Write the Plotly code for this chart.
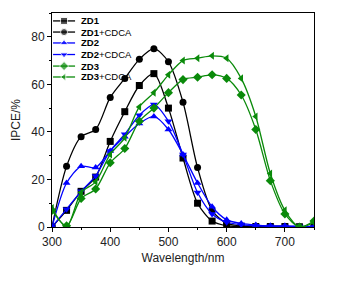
import plotly.graph_objects as go

wavelength = [300, 325, 350, 375, 400, 425, 450, 475, 500, 525, 550, 575, 600, 625, 650, 675, 700, 725, 750]

zd1 = [0, 7, 15, 21, 36, 48.5, 59.5, 64.5, 50, 29, 10, 2.5, 0.5, 0.3, 0.2, 0.2, 0.2, 0.1, 0]
zd1_cdca = [0, 25.5, 38, 41, 54.5, 62.5, 70.5, 75, 69.5, 52.5, 25, 7, 1.5, 0.5, 0.3, 0.2, 0.2, 0.1, 0]
zd2 = [0, 18.5, 25.5, 25, 32, 38, 43.5, 46.5, 41, 30.5, 18.5, 8.5, 3, 1.5, 0.8, 0.5, 0.5, 0.3, 0.2]
zd2_cdca = [0, 7.5, 15, 21.5, 32, 39, 47, 51.5, 44.5, 30.5, 14.5, 5.5, 2, 1, 0.5, 0.3, 0.2, 0.2, 0]
zd3 = [7, 0.5, 12, 16, 27, 33, 44.5, 50, 56.5, 62, 63, 64, 62.5, 55.5, 41, 19.5, 5.5, 0, 2.5]
zd3_cdca = [8, 0, 14.5, 19, 30.5, 37.5, 50.5, 56.5, 64, 70, 71, 72, 71, 62.5, 46.5, 22.5, 7, 0, 2]

names = ["ZD1", "ZD1+CDCA", "ZD2", "ZD2+CDCA", "ZD3", "ZD3+CDCA"]
values = [zd1, zd1_cdca, zd2, zd2_cdca, zd3, zd3_cdca]
colors = ["black", "black", "#0000ff", "#0000ff", "#0a8a0a", "#0a8a0a"]
symbols = ["square", "circle", "triangle-up", "triangle-down", "diamond", "triangle-left"]

fig = go.Figure()
for name, ys, color, sym in zip(names, values, colors, symbols):
    fig.add_trace(go.Scatter(
        x=wavelength, y=ys, name=name, mode="lines+markers", showlegend=False,
        line=dict(color=color, width=1.3, shape="spline", smoothing=0.8),
        marker=dict(symbol=sym, size=7, color=color),
    ))

# compact legend key drawn on a hidden overlay axis (0..1 over the plot area)
leg_y = [0.963, 0.911, 0.860, 0.806, 0.752, 0.701]
for name, color, sym, yy in zip(names, colors, symbols, leg_y):
    fig.add_trace(go.Scatter(
        x=[0.004, 0.046, 0.088], y=[yy, yy, yy], xaxis="x2", yaxis="y2",
        mode="lines+markers", showlegend=False, hoverinfo="skip",
        line=dict(color=color, width=1.3),
        marker=dict(symbol=sym, size=[0, 7, 0], color=color),
    ))
    base, _, rest = name.partition("+")
    label = "<b>%s</b>" % base + ("+" + rest if rest else "")
    fig.add_annotation(x=0.103, y=yy, xref="paper", yref="paper", text=label,
                       showarrow=False, xanchor="left", yanchor="middle",
                       font=dict(size=9.5, color="black"))

fig.update_layout(
    width=340, height=282,
    margin=dict(l=44, r=34, t=5, b=63),
    paper_bgcolor="white", plot_bgcolor="white",
    font=dict(family="Liberation Sans, Arial", size=12, color="#222"),
    showlegend=False,
    xaxis=dict(range=[300, 750], tickvals=[300, 400, 500, 600, 700],
               showgrid=False, zeroline=False,
               showline=True, linecolor="black", linewidth=1, mirror=True,
               ticks="outside", ticklen=4, tickcolor="black",
               minor=dict(dtick=50, ticks="outside", ticklen=2, tickcolor="black"),
               title=dict(text="Wavelength/nm", font=dict(size=12), standoff=5)),
    yaxis=dict(range=[0, 90], tickvals=[0, 20, 40, 60, 80],
               showgrid=False, zeroline=False,
               showline=True, linecolor="black", linewidth=1, mirror=True,
               ticks="outside", ticklen=4, tickcolor="black",
               minor=dict(dtick=10, ticks="outside", ticklen=2, tickcolor="black"),
               title=dict(text="IPCE/%", font=dict(size=12), standoff=8)),
    xaxis2=dict(overlaying="x", range=[0, 1], visible=False),
    yaxis2=dict(overlaying="y", range=[0, 1], visible=False),
)

fig.write_html("out.html")
